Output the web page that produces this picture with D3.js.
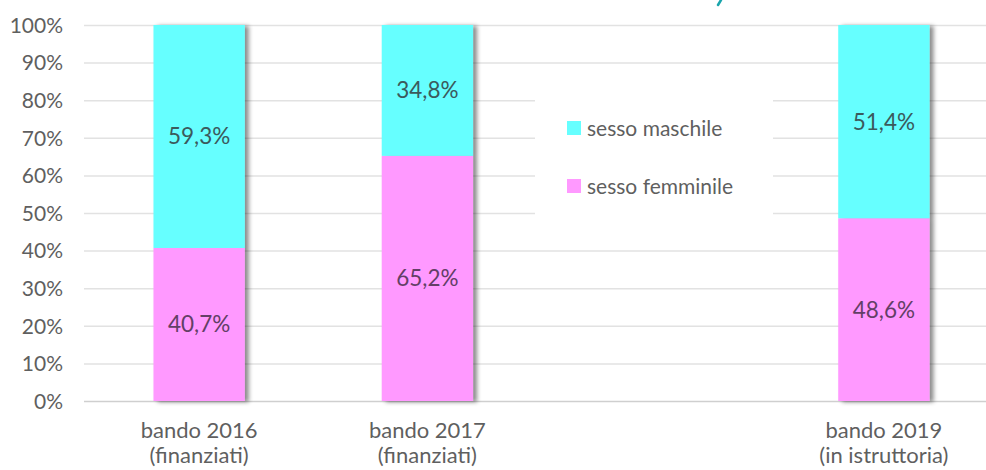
<!DOCTYPE html>
<html>
<head>
<meta charset="utf-8">
<script src="https://cdn.jsdelivr.net/npm/d3@7"></script>
<style>
  body { margin: 0; background: #fff; }
  svg { display: block; font-family: Lato, "Open Sans", sans-serif; }
</style>
</head>
<body>
<div id="chart"></div>
<script>
// the empty slot is where the legend sits
const categories = ["bando 2016", "bando 2017", "", "bando 2019"];
const subLabels = ["(finanziati)", "(finanziati)", "", "(in istruttoria)"];
const femmine = [40.7, 65.2, null, 48.6];
const maschi = [59.3, 34.8, null, 51.4];
const yTicks = [0, 10, 20, 30, 40, 50, 60, 70, 80, 90, 100];
const seriesNames = ["sesso maschile", "sesso femminile"];

const width = 986;
const height = 470;

const svg = d3.select("#chart")
    .append("svg")
    .attr("width", width)
    .attr("height", height);

const defs = svg.append("defs");
defs.append("filter")
    .attr("id", "shadow")
    .attr("x", "-10%").attr("y", "-5%")
    .attr("width", "130%").attr("height", "110%")
    .append("feDropShadow")
    .attr("dx", 4)
    .attr("dy", 1)
    .attr("stdDeviation", 2)
    .attr("flood-color", "#000")
    .attr("flood-opacity", 0.45);

const x = d3.scaleBand()
    .domain(d3.range(categories.length))
    .range([85, 998])
    .paddingInner(0.6)
    .paddingOuter(0.3);

const y = d3.scaleLinear()
    .domain([0, 100])
    .range([401, 25]);

// gridlines
svg.append("g")
    .selectAll("line")
    .data(yTicks)
    .enter()
    .append("line")
    .attr("x1", 84)
    .attr("x2", width)
    .attr("y1", d => y(d) + 0.5)
    .attr("y2", d => y(d) + 0.5)
    .attr("stroke", d => d === 0 ? "#cfcfcf" : "#e2e2e2")
    .attr("stroke-width", 1.5);

// y axis labels
const yAxis = d3.axisLeft(y)
    .tickValues(yTicks)
    .tickFormat(d => d + "%")
    .tickSize(0)
    .tickPadding(0);

svg.append("g")
    .attr("transform", "translate(63,0)")
    .call(yAxis)
    .call(g => g.select(".domain").remove())
    .selectAll("text")
    .attr("font-size", "21px")
    .attr("font-family", "Lato, sans-serif")
    .attr("fill", "#5f5f5f")
    .attr("dy", "0.35em");

// legend background hides the gridlines behind it
svg.append("rect")
    .attr("x", 535)
    .attr("y", 80)
    .attr("width", 238)
    .attr("height", 148)
    .attr("fill", "#fff");

const barData = categories.map((c, i) => ({ i, f: femmine[i], m: maschi[i] }))
    .filter(d => d.f !== null);

const bars = svg.append("g")
    .selectAll("g")
    .data(barData)
    .enter()
    .append("g")
    .attr("filter", "url(#shadow)");

bars.append("rect")
    .attr("x", d => x(d.i))
    .attr("width", x.bandwidth())
    .attr("y", d => y(d.f))
    .attr("height", d => y(0) - y(d.f))
    .attr("fill", "#ff99ff");

bars.append("rect")
    .attr("x", d => x(d.i))
    .attr("width", x.bandwidth())
    .attr("y", d => y(d.f + d.m))
    .attr("height", d => y(d.f) - y(d.f + d.m))
    .attr("fill", "#66ffff");

const fmt = v => v.toFixed(1).replace(".", ",") + "%";

const labels = svg.append("g")
    .attr("font-size", "22.5px")
    .attr("text-anchor", "middle");

labels.selectAll(".lf")
    .data(barData)
    .enter()
    .append("text")
    .attr("x", d => x(d.i) + x.bandwidth() / 2)
    .attr("y", d => y(d.f / 2))
    .attr("dy", "0.35em")
    .attr("fill", "#633f66")
    .text(d => fmt(d.f));

labels.selectAll(".lm")
    .data(barData)
    .enter()
    .append("text")
    .attr("x", d => x(d.i) + x.bandwidth() / 2)
    .attr("y", d => y(d.f + d.m / 2))
    .attr("dy", "0.35em")
    .attr("fill", "#3b5a5c")
    .text(d => fmt(d.m));

// category labels
const cat = svg.append("g")
    .attr("font-size", "22px")
    .attr("text-anchor", "middle")
    .attr("fill", "#5f5f5f");

cat.selectAll("text.c1")
    .data(categories)
    .enter()
    .append("text")
    .attr("x", (d, i) => x(i) + x.bandwidth() / 2)
    .attr("y", 438)
    .text(d => d);

cat.selectAll("text.c2")
    .data(subLabels)
    .enter()
    .append("text")
    .attr("x", (d, i) => x(i) + x.bandwidth() / 2)
    .attr("y", 463)
    .text(d => d);

// legend
const legendColors = ["#66ffff", "#ff99ff"];
const legend = svg.append("g")
    .selectAll("g")
    .data(seriesNames)
    .enter()
    .append("g")
    .attr("transform", (d, i) => `translate(567,${121 + i * 58})`);

legend.append("rect")
    .attr("width", 14)
    .attr("height", 14)
    .attr("fill", (d, i) => legendColors[i]);

legend.append("text")
    .attr("x", 20)
    .attr("y", 7)
    .attr("dy", "0.36em")
    .attr("font-size", "21px")
    .attr("fill", "#5f5f5f")
    .text(d => d);

// tail of the clipped title glyph above the chart
svg.append("path")
    .attr("d", "M721,0 L718,5")
    .attr("stroke", "#1aa5ac")
    .attr("stroke-width", 2.5)
    .attr("stroke-linecap", "round");
</script>
</body>
</html>
